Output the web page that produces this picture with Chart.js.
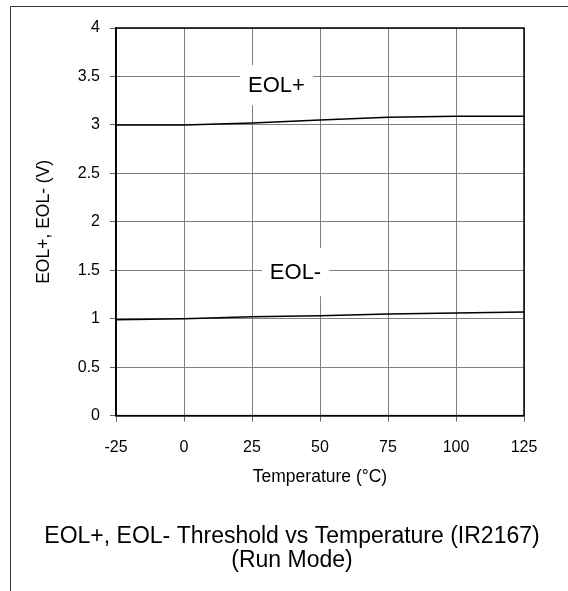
<!DOCTYPE html>
<html>
<head>
<meta charset="utf-8">
<script src="https://cdn.jsdelivr.net/npm/chart.js@4/dist/chart.umd.min.js"></script>
<style>
  body { margin: 0; background: #fff; }
  canvas { display: block; }
</style>
</head>
<body>
<canvas id="chart" width="568" height="591"></canvas>
<script>
//temperature points and the two threshold curves
const temps = [-25, 0, 25, 50, 75, 100, 125];
const eolPlus = [3.00, 3.00, 3.02, 3.05, 3.08, 3.09, 3.09];
const eolMinus = [0.99, 1.00, 1.02, 1.03, 1.05, 1.06, 1.07];
const curveNames = ['EOL+', 'EOL-'];
const titleLines = ['EOL+, EOL- Threshold vs Temperature (IR2167)', '(Run Mode)'];

const FONT = 'Liberation Sans, Arial, sans-serif';

//where the curve names sit, in data units
const curveLabels = [
    { text: curveNames[0], x: 34, y: 3.41, padX: 8, padY: 20 },
    { text: curveNames[1], x: 41, y: 1.48, padX: 8, padY: 24 }
];

function toPoints(ys) {
    return temps.map((t, i) => ({ x: t, y: ys[i] }));
}

//white boxes with the curve names, over the grid but under the lines
const labelBoxes = {
    id: 'labelBoxes',
    beforeDatasetsDraw(chart) {
        const ctx = chart.ctx;
        const xs = chart.scales.x, ys = chart.scales.y;
        ctx.save();
        ctx.font = '22px ' + FONT;
        ctx.textAlign = 'center';
        ctx.textBaseline = 'middle';
        curveLabels.forEach(l => {
            const cx = xs.getPixelForValue(l.x);
            const cy = ys.getPixelForValue(l.y);
            const w = ctx.measureText(l.text).width;
            ctx.fillStyle = '#fff';
            ctx.fillRect(cx - w / 2 - l.padX, cy - l.padY, w + 2 * l.padX, 2 * l.padY);
            ctx.fillStyle = '#000';
            ctx.fillText(l.text, cx, cy + 1);
        });
        ctx.restore();
    }
};

//black plot border plus the outer frame of the figure
const frame = {
    id: 'frame',
    afterDraw(chart) {
        const ctx = chart.ctx;
        const a = chart.chartArea;
        ctx.save();
        ctx.strokeStyle = '#000';
        ctx.lineWidth = 1.5;
        ctx.strokeRect(a.left, a.top, a.right - a.left, a.bottom - a.top);
        ctx.strokeStyle = '#333';
        ctx.lineWidth = 1;
        ctx.beginPath();
        ctx.moveTo(10.5, 591);
        ctx.lineTo(10.5, 6.5);
        ctx.lineTo(568, 6.5);
        ctx.stroke();
        ctx.restore();
    }
};

new Chart(document.getElementById('chart'), {
    type: 'line',
    data: {
        datasets: [
            { label: curveNames[0], data: toPoints(eolPlus) },
            { label: curveNames[1], data: toPoints(eolMinus) }
        ]
    },
    options: {
        responsive: false,
        devicePixelRatio: 1,
        animation: false,
        layout: { padding: { left: 16, top: 28, right: 0, bottom: 0 } },
        elements: {
            line: { borderColor: '#000', borderWidth: 1.5, tension: 0 },
            point: { radius: 0 }
        },
        plugins: {
            legend: { display: false },
            tooltip: { enabled: false },
            title: {
                display: true,
                position: 'bottom',
                text: titleLines,
                color: '#000',
                font: { family: FONT, size: 23, weight: 'normal', lineHeight: 1.04 },
                padding: { top: 10, bottom: 18 }
            }
        },
        scales: {
            x: {
                type: 'linear',
                min: -25,
                max: 125,
                ticks: { stepSize: 25, color: '#000', padding: 16, font: { family: FONT, size: 16 } },
                grid: { color: '#808080', lineWidth: 1, tickLength: 6, tickColor: '#666' },
                border: { color: '#000', width: 1.5 },
                title: {
                    display: true,
                    text: 'Temperature (°C)',
                    color: '#000',
                    font: { family: FONT, size: 17.5 },
                    padding: { top: 0, bottom: 27 }
                },
                afterFit(scale) { scale.height = 99.5; }
            },
            y: {
                min: 0,
                max: 4,
                ticks: {
                    stepSize: 0.5, color: '#000', padding: 10, font: { family: FONT, size: 16 },
                    callback: v => String(Number(v.toFixed(1)))
                },
                grid: { color: '#808080', lineWidth: 1, tickLength: 6, tickColor: '#666' },
                border: { color: '#000', width: 1.5 },
                title: {
                    display: true,
                    text: 'EOL+, EOL- (V)',
                    color: '#000',
                    font: { family: FONT, size: 17.5 },
                    padding: { top: 18, bottom: 0 }
                },
                afterFit(scale) { scale.width = 100; }
            },
            //empty right-hand axis that only keeps the space right of the plot
            spacer: {
                position: 'right',
                ticks: { display: false },
                grid: { display: false, drawTicks: false },
                border: { display: false },
                afterFit(scale) { scale.width = 44; }
            }
        }
    },
    plugins: [labelBoxes, frame]
});
</script>
</body>
</html>
